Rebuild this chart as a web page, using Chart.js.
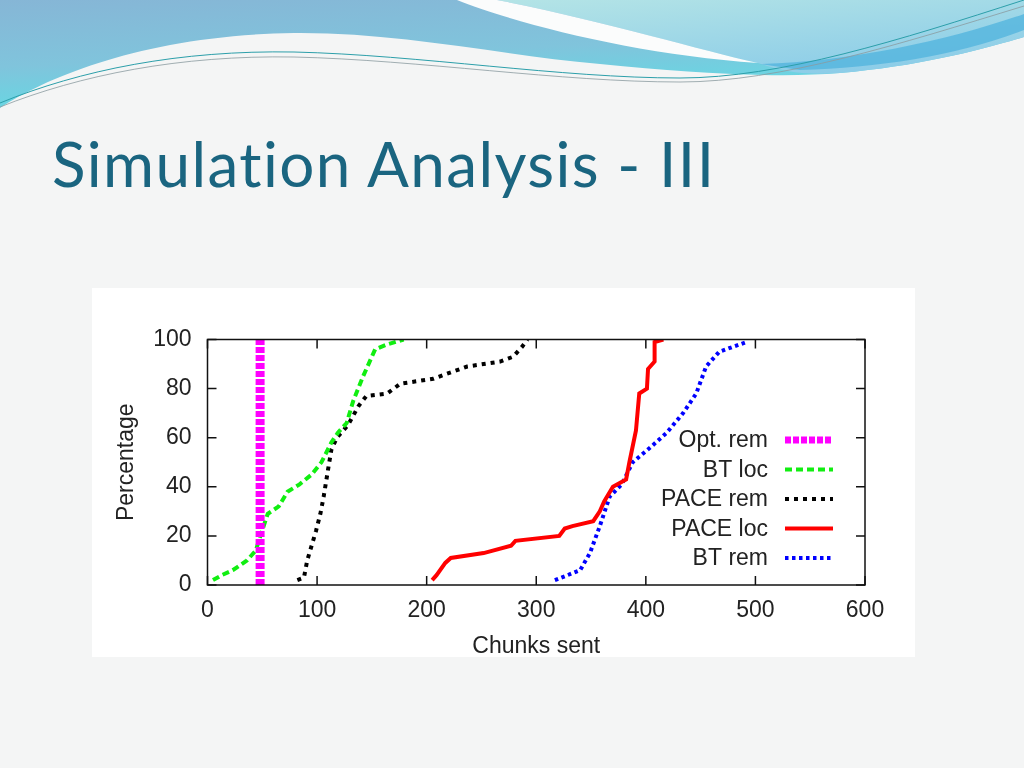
<!DOCTYPE html>
<html>
<head>
<meta charset="utf-8">
<title>Simulation Analysis - III</title>
<script src="https://cdn.jsdelivr.net/npm/chart.js@4.4.1/dist/chart.umd.min.js"></script>
<style>
  html, body { margin: 0; padding: 0; }
  body { width: 1024px; height: 768px; position: relative; overflow: hidden; background: #f4f5f5; }
  #waves { position: absolute; left: 0; top: 0; }
  #heading { position: absolute; left: 0; top: 0; }
  #heading text { font-variant-ligatures: none; font-feature-settings: "liga" 0; }
  #box { position: absolute; left: 92px; top: 288px; width: 823px; height: 369px; background: #fff; }
</style>
</head>
<body>
<svg id="waves" width="1024" height="130" viewBox="0 0 1024 130">
  <defs>
    <linearGradient id="band" x1="0" y1="0" x2="0.35" y2="1">
      <stop offset="0" stop-color="#86b6d6"/>
      <stop offset="0.55" stop-color="#80c4dc"/>
      <stop offset="1" stop-color="#62dbe4"/>
    </linearGradient>
    <linearGradient id="pale" x1="0" y1="0" x2="0.6" y2="1">
      <stop offset="0" stop-color="#b4e4e6"/>
      <stop offset="1" stop-color="#8dcde8"/>
    </linearGradient>
  </defs>
  <path d="M0,108 C50,75 150,35 294,33 C400,32 500,55 600,64 C700,74 780,78 840,73 C920,66 980,50 1024,37 V0 H0 Z" fill="url(#band)"/>
  <path d="M497,0 H1024 V37 C980,50 920,66 840,73 C800,76 780,70 758,63 C700,50 600,20 497,0 Z" fill="url(#pale)"/>
  <path d="M457,0 C520,25 640,55 758,63 C700,50 600,20 497,0 Z" fill="#fbfcfc"/>
  <path d="M760,64 C850,62 950,40 1024,14 V30 C960,55 880,68 800,70 Z" fill="#4fb3de" opacity="0.75"/>
  <path d="M0,103 C80,70 180,50 294,52 C420,55 560,78 680,78 C780,78 900,40 1024,0" fill="none" stroke="#2c9faa" stroke-width="1"/>
  <path d="M0,107 C80,75 180,55 294,57 C420,60 560,82 680,82 C780,82 900,44 1024,6" fill="none" stroke="#8a9aa0" stroke-width="0.8"/>
</svg>
<svg id="heading" width="1024" height="220">
  <text x="52" y="187" font-family="Lato" font-size="62" fill="#1a6580" textLength="662">Simulation Analysis - III</text>
</svg>
<div id="box"><canvas id="cdf" width="823" height="369"></canvas></div>
<script>
// values (x = chunks sent, y = percentage)
const optRemX = [48, 48];
const optRemY = [0, 100];

const btLocX = [5, 13, 23, 36, 44, 49, 55, 65, 73, 84, 95, 104, 113, 119, 127, 133, 142, 153, 164, 179];
const btLocY = [2, 4, 6, 10, 14, 21, 29, 32, 38, 41, 45, 50, 58, 62, 66, 75, 85, 96, 98, 100];

const paceRemX = [82, 88, 91, 99, 103, 106, 110, 113, 118, 128, 138, 145, 164, 176, 206, 218, 237, 267, 279, 287, 292];
const paceRemY = [2, 3, 10, 22, 29, 36, 47, 55, 60, 65, 73, 77, 78, 82, 84, 86, 89, 91, 93, 97, 100];

const paceLocX = [205, 209, 217, 222, 252, 277, 281, 321, 326, 333, 352, 358, 362, 370, 382, 385, 391, 394, 401, 402, 408, 408, 416];
const paceLocY = [2, 4, 9, 11, 13, 16, 18, 20, 23, 24, 26, 30, 34, 40, 43, 50, 63, 78, 80, 88, 91, 99, 100];

const btRemX = [317, 340, 349, 358, 367, 378, 388, 404, 419, 434, 446, 455, 467, 492];
const btRemY = [2, 6, 13, 24, 36, 41, 50, 56, 62, 70, 78, 89, 95, 99];

const seriesNames = ['Opt. rem', 'BT loc', 'PACE rem', 'PACE loc', 'BT rem'];

function pts(xs, ys) {
    return xs.map((x, i) => ({ x: x, y: ys[i] }));
}

const FONT = '"Liberation Sans", Arial, sans-serif';

// gnuplot style box with inward ticks on all four sides
const frame = {
    id: 'frame',
    afterDatasetsDraw(chart) {
        const { ctx, chartArea: a, scales: { x, y } } = chart;
        ctx.save();
        ctx.strokeStyle = '#111';
        ctx.lineWidth = 1.5;
        ctx.strokeRect(a.left, a.top, a.right - a.left, a.bottom - a.top);
        ctx.beginPath();
        x.ticks.forEach(t => {
            const px = x.getPixelForValue(t.value);
            ctx.moveTo(px, a.bottom); ctx.lineTo(px, a.bottom - 9);
            ctx.moveTo(px, a.top); ctx.lineTo(px, a.top + 9);
        });
        y.ticks.forEach(t => {
            const py = y.getPixelForValue(t.value);
            ctx.moveTo(a.left, py); ctx.lineTo(a.left + 9, py);
            ctx.moveTo(a.right, py); ctx.lineTo(a.right - 9, py);
        });
        ctx.stroke();
        ctx.restore();
    }
};

// key drawn inside the plot: label right-aligned, sample line to its right
const key = {
    id: 'key',
    afterDraw(chart) {
        const { ctx, chartArea: a } = chart;
        const sets = chart.data.datasets;
        ctx.save();
        ctx.font = '23px ' + FONT;
        ctx.textAlign = 'right';
        ctx.textBaseline = 'middle';
        ctx.fillStyle = '#222';
        sets.forEach((ds, i) => {
            const yy = a.bottom - 27 - (sets.length - 1 - i) * 29.5;
            ctx.fillText(ds.label, a.right - 97, yy + 1);
            ctx.strokeStyle = ds.borderColor;
            ctx.lineWidth = ds.keyWidth || ds.borderWidth;
            ctx.setLineDash(ds.borderDash || []);
            ctx.beginPath();
            ctx.moveTo(a.right - 80, yy);
            ctx.lineTo(a.right - 32, yy);
            ctx.stroke();
        });
        ctx.restore();
    }
};

const ctx = document.getElementById('cdf').getContext('2d');
new Chart(ctx, {
    type: 'line',
    data: {
        datasets: [
            { label: seriesNames[0], data: pts(optRemX, optRemY), borderColor: '#ff00ff', borderWidth: 9, keyWidth: 7, borderDash: [6, 2] },
            { label: seriesNames[1], data: pts(btLocX, btLocY), borderColor: '#11ee11', borderWidth: 4, borderDash: [7, 4] },
            { label: seriesNames[2], data: pts(paceRemX, paceRemY), borderColor: '#000000', borderWidth: 4, borderDash: [4, 5] },
            { label: seriesNames[3], data: pts(paceLocX, paceLocY), borderColor: '#ff0000', borderWidth: 4 },
            { label: seriesNames[4], data: pts(btRemX, btRemY), borderColor: '#0000ff', borderWidth: 4, borderDash: [3.5, 3.5] }
        ]
    },
    options: {
        responsive: false,
        animation: false,
        elements: { point: { radius: 0 }, line: { tension: 0 } },
        layout: { padding: { left: 0, top: 51.5, right: 50, bottom: 0 } },
        plugins: { legend: { display: false }, tooltip: { enabled: false } },
        scales: {
            x: {
                type: 'linear',
                min: 0,
                max: 600,
                grid: { display: false },
                border: { display: false },
                ticks: { stepSize: 100, color: '#222', font: { family: FONT, size: 23 }, padding: 4, maxRotation: 0 },
                title: { display: true, text: 'Chunks sent', color: '#222', font: { family: FONT, size: 23 }, padding: { top: 0, bottom: -3 } },
                afterFit(scale) { scale.height = 72; scale.paddingLeft = 0; scale.paddingRight = 0; }
            },
            y: {
                type: 'linear',
                min: 0,
                max: 100,
                grid: { display: false },
                border: { display: false },
                ticks: { stepSize: 20, color: '#222', font: { family: FONT, size: 23 }, padding: 8 },
                title: { display: true, text: 'Percentage', color: '#222', font: { family: FONT, size: 23 }, padding: { top: 21, bottom: 0 } },
                afterFit(scale) { scale.width = 115.5; scale.paddingTop = 0; scale.paddingBottom = 0; }
            }
        }
    },
    plugins: [frame, key]
});
</script>
</body>
</html>
